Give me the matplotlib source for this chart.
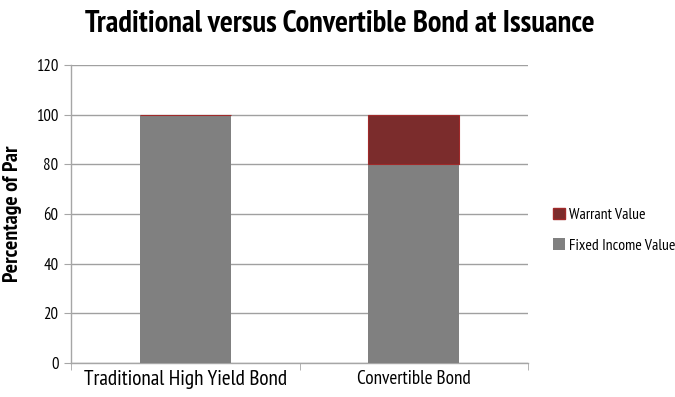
import matplotlib
matplotlib.use('Agg')
import matplotlib.pyplot as plt
from matplotlib import font_manager
from matplotlib.patches import Patch

# look for a narrow / condensed face (with a bold weight if possible)
def wnum(w):
    return w if isinstance(w, (int, float)) else font_manager.weight_dict.get(w, 400)

faces = {}
for f in font_manager.fontManager.ttflist:
    st = str(f.stretch)
    if 'Narrow' in f.name or 'Condensed' in f.name or 'condensed' in st:
        faces.setdefault((f.name, st), set()).add(wnum(f.weight))
narrow_name, narrow_stretch = 'DejaVu Sans', 'normal'
best = -1
for (name, st), ws in faces.items():
    score = (2 if max(ws) >= 700 else 0) + (1 if 'Narrow' in name else 0)
    if score > best:
        best, narrow_name, narrow_stretch = score, name, st
plt.rcParams['font.family'] = [narrow_name, 'DejaVu Sans']
plt.rcParams['font.stretch'] = narrow_stretch

categories = ['Traditional High Yield Bond', 'Convertible Bond']
fixed_income = [100, 80]
warrant = [0, 20]
yticks = [0, 20, 40, 60, 80, 100, 120]

grey = '#808080'
red = '#7b2c2c'

fig = plt.figure(figsize=(6.75, 3.97), dpi=100)
ax = fig.add_axes([71 / 675, 1 - 363 / 397, (528 - 71) / 675, (363 - 65) / 397])

x = range(len(categories))
ax.bar(x, fixed_income, width=0.4, color=grey, zorder=3)
ax.bar(x, warrant, width=0.4, bottom=fixed_income, color=red,
       edgecolor='#a02a2a', linewidth=0.8, zorder=3)

ax.set_xlim(-0.5, 1.5)
ax.set_ylim(0, 120)
ax.set_yticks(yticks)
ax.set_xticks(list(x))
ax.set_xticklabels(categories, fontsize=12)
ax.tick_params(axis='x', length=0, pad=5)
ax.set_xticks([-0.5, 0.5, 1.5], minor=True)
ax.tick_params(axis='x', which='minor', length=5, color='#a6a6a6')
ax.tick_params(axis='y', labelsize=12, length=5, color='#a6a6a6', pad=4)
ax.grid(axis='y', color='#a0a0a0', linewidth=1, zorder=0)
for s in ['top', 'right']:
    ax.spines[s].set_visible(False)
for s in ['left', 'bottom']:
    ax.spines[s].set_color('#a6a6a6')
    ax.spines[s].set_linewidth(1)

ylab = ax.set_ylabel('Percentage of Par', fontsize=12, fontweight='bold', labelpad=10)
title = fig.suptitle('Traditional versus Convertible Bond at Issuance',
                     fontsize=20, fontweight='bold', x=0.503, y=0.975)

# scale texts to the widths they take in the reference
fig.canvas.draw()
r = fig.canvas.get_renderer()
def fit(t, target, horizontal=True):
    bb = t.get_window_extent(r)
    w = bb.width if horizontal else bb.height
    t.set_fontsize(t.get_fontsize() * target / w)
fit(title, 510)
fit(ylab, 136, horizontal=False)
for t, w in zip(ax.get_xticklabels(), [204, 114]):
    fit(t, w)

probe = fig.text(0, 0, 'Fixed Income Value', fontsize=10)
leg_size = 10 * 106 / probe.get_window_extent(r).width
probe.remove()

handles = [Patch(facecolor=red, edgecolor='#a02a2a'), Patch(facecolor=grey)]
leg = fig.legend(handles, ['Warrant Value', 'Fixed Income Value'],
                 loc='center left', bbox_to_anchor=(553 / 675, 0.42), frameon=False,
                 fontsize=leg_size, handlelength=0.75, handleheight=0.75,
                 handletextpad=0.25, labelspacing=1.05, borderpad=0, borderaxespad=0)

fig.savefig('out.png', dpi=100)
